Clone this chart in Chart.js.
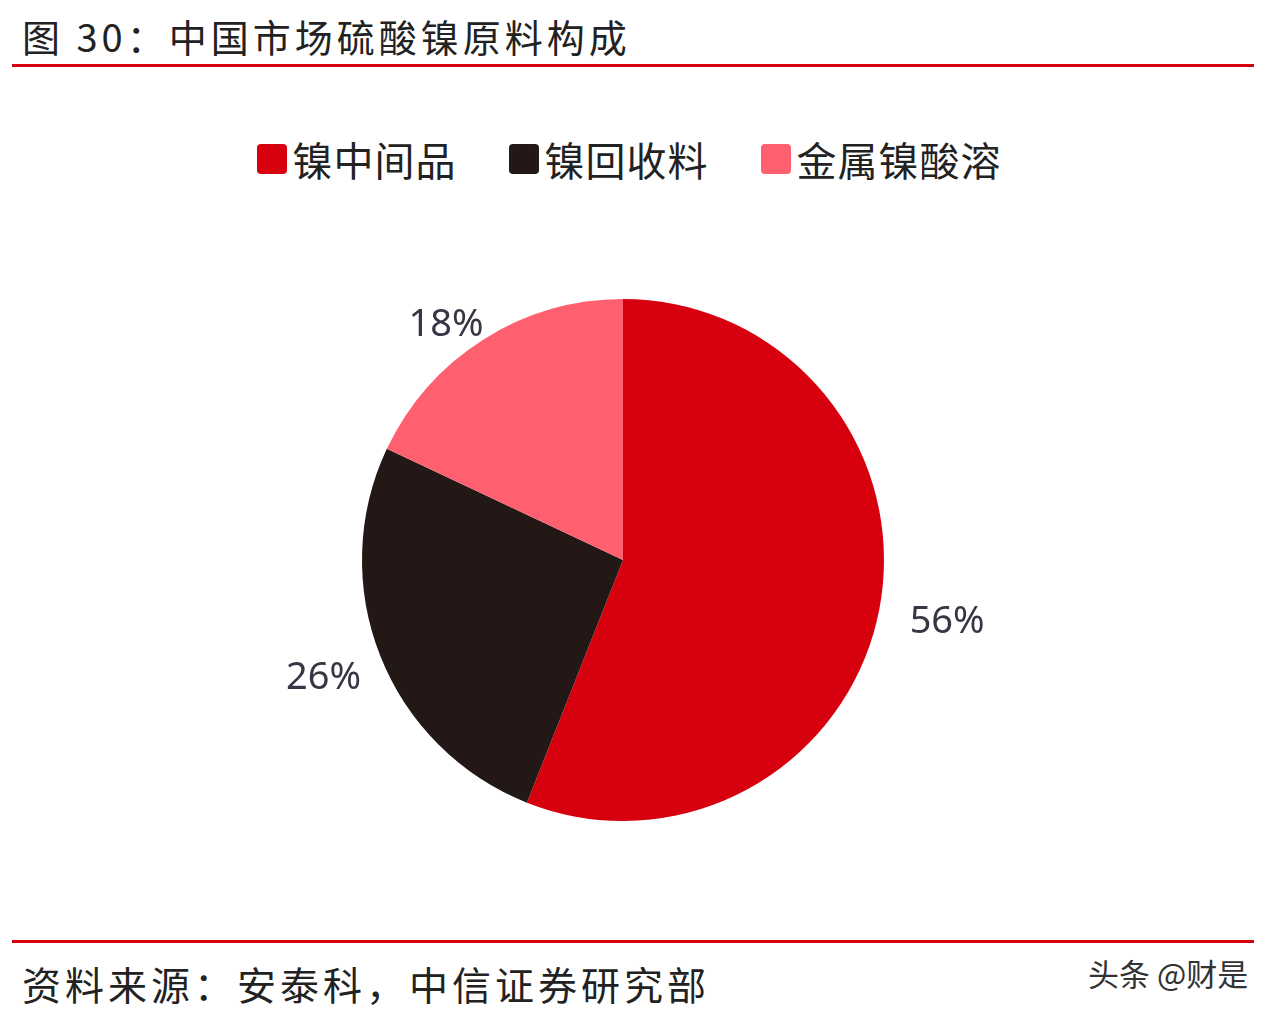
<!DOCTYPE html>
<html><head><meta charset="utf-8">
<script src="https://cdn.jsdelivr.net/npm/chart.js@4"></script>
<style>
body{margin:0;width:1288px;height:1018px;background:#fff;position:relative;overflow:hidden;font-family:"Noto Sans CJK SC","Noto Sans",sans-serif;}
.t{position:absolute;white-space:nowrap;}
.line{position:absolute;left:12px;width:1242px;height:3px;background:#d7000f;}
#legend{position:absolute;top:130px;left:0;width:1258px;display:flex;justify-content:center;gap:52px;font-size:40px;color:#222;letter-spacing:1px;}
#legend div{display:flex;align-items:center;}
#legend span{display:inline-block;width:30px;height:30px;border-radius:4px;margin-right:6px;}
</style></head><body>
<div class="t" style="left:22px;top:8px;font-size:38px;letter-spacing:4px;color:#222;">图 30：中国市场硫酸镍原料构成</div>
<div class="line" style="top:64px"></div>
<div id="legend"></div>
<div style="position:absolute;left:0;top:260px;width:1246px;height:600px;"><canvas id="c"></canvas></div>
<div class="line" style="top:940px"></div>
<div class="t" style="left:22px;top:955px;font-size:39px;letter-spacing:4px;color:#222;">资料来源：安泰科，中信证券研究部</div>
<div class="t" style="left:1088px;top:950px;font-size:31px;color:#333;">头条 @财是</div>
<script>
const categories=["镍中间品","镍回收料","金属镍酸溶"];
const values=[56,26,18];
const colors=["#d7000f","#231815","#ff6070"];
const lg=document.getElementById('legend');
categories.forEach((c,i)=>{const d=document.createElement('div');d.innerHTML='<span style="background:'+colors[i]+'"></span>'+c;lg.appendChild(d);});
const labelPlugin={id:'lbl',afterDatasetsDraw(ch){const ctx=ch.ctx;const meta=ch.getDatasetMeta(0);ctx.save();ctx.font='38px "Noto Sans","DejaVu Sans",sans-serif';ctx.fillStyle='#3a3545';ctx.textAlign='center';ctx.textBaseline='middle';
const extra=[0,-8,-36];
meta.data.forEach((a,i)=>{const m=(a.startAngle+a.endAngle)/2+(i==2?-0.08:0);const r=a.outerRadius+69+extra[i];ctx.fillText(values[i]+'%',a.x+Math.cos(m)*r,a.y+Math.sin(m)*r);});ctx.restore();}};
new Chart(document.getElementById('c'),{type:'pie',data:{labels:categories,datasets:[{data:values,backgroundColor:colors,borderWidth:0,radius:261}]},
options:{responsive:true,maintainAspectRatio:false,animation:false,plugins:{legend:{display:false},tooltip:{enabled:false}}},plugins:[labelPlugin]});
</script></body></html>
